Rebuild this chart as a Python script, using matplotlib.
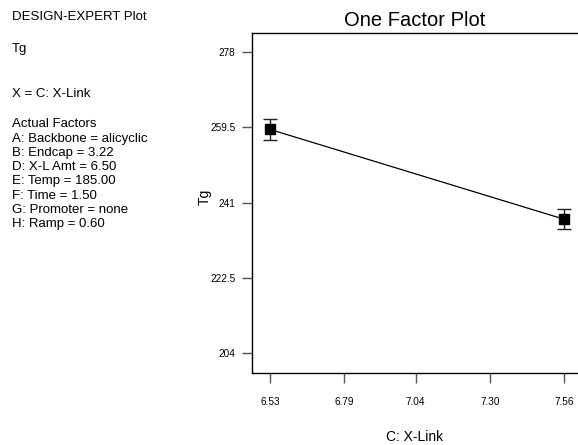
import matplotlib
matplotlib.use("Agg")
import matplotlib.pyplot as plt

plt.rcParams['font.family'] = ['Liberation Sans', 'DejaVu Sans']

# data
x_link = [6.53, 7.56]
tg = [258.95, 236.9]
tg_err = [2.55, 2.5]

x_ticks = [6.53, 6.79, 7.04, 7.30, 7.56]
x_ticklabels = ["6.53", "6.79", "7.04", "7.30", "7.56"]
y_ticks = [204, 222.5, 241, 259.5, 278]
y_ticklabels = ["204", "222.5", "241", "259.5", "278"]

info_lines = ["A: Backbone = alicyclic", "B: Endcap = 3.22", "D: X-L Amt = 6.50",
              "E: Temp = 185.00", "F: Time = 1.50", "G: Promoter = none", "H: Ramp = 0.60"]

fig = plt.figure(figsize=(5.78, 4.45), dpi=100)
ax = fig.add_axes([252/578, 72/445, 326/578, 340/445])

ax.plot(x_link, tg, color='black', lw=0.9)
ax.errorbar(x_link, tg, yerr=tg_err, fmt='s', color='black', ms=6.5,
            ecolor='#222222', elinewidth=1, capsize=5, capthick=1)

ax.set_xlim(6.467, 7.608)
ax.set_ylim(199.2, 282.6)
ax.spines['right'].set_visible(False)
for s in ['left', 'bottom', 'top']:
    ax.spines[s].set_linewidth(1.0)

ax.set_xticks(x_ticks)
ax.set_xticklabels(x_ticklabels)
ax.set_yticks(y_ticks)
ax.set_yticklabels(y_ticklabels)
ax.tick_params(axis='x', direction='out', length=7, width=1, color='#555555',
               pad=10, labelsize=7.2)
ax.tick_params(axis='y', direction='out', length=7, width=1, color='#555555',
               pad=5, labelsize=7.2)

ax.set_title("One Factor Plot", fontsize=14.5, pad=5)
fig.text(415/578, 1 - 437/445, "C: X-Link", ha='center', va='center', fontsize=10)
fig.text(205/578, 1 - 197/445, "Tg", ha='center', va='center', rotation=90, fontsize=10)

# left side annotation block
fs = 9.5
fig.text(12/578, 1 - 17/445, "DESIGN-EXPERT Plot", ha='left', va='center', fontsize=fs)
fig.text(12/578, 1 - 49/445, "Tg", ha='left', va='center', fontsize=fs)
fig.text(12/578, 1 - 94/445, "X = C: X-Link", ha='left', va='center', fontsize=fs)
fig.text(12/578, 1 - 124/445, "Actual Factors", ha='left', va='center', fontsize=fs)
for i, line in enumerate(info_lines):
    fig.text(12/578, 1 - (138.5 + i*14.3)/445, line, ha='left', va='center', fontsize=fs)

fig.savefig("out.png", dpi=100)
